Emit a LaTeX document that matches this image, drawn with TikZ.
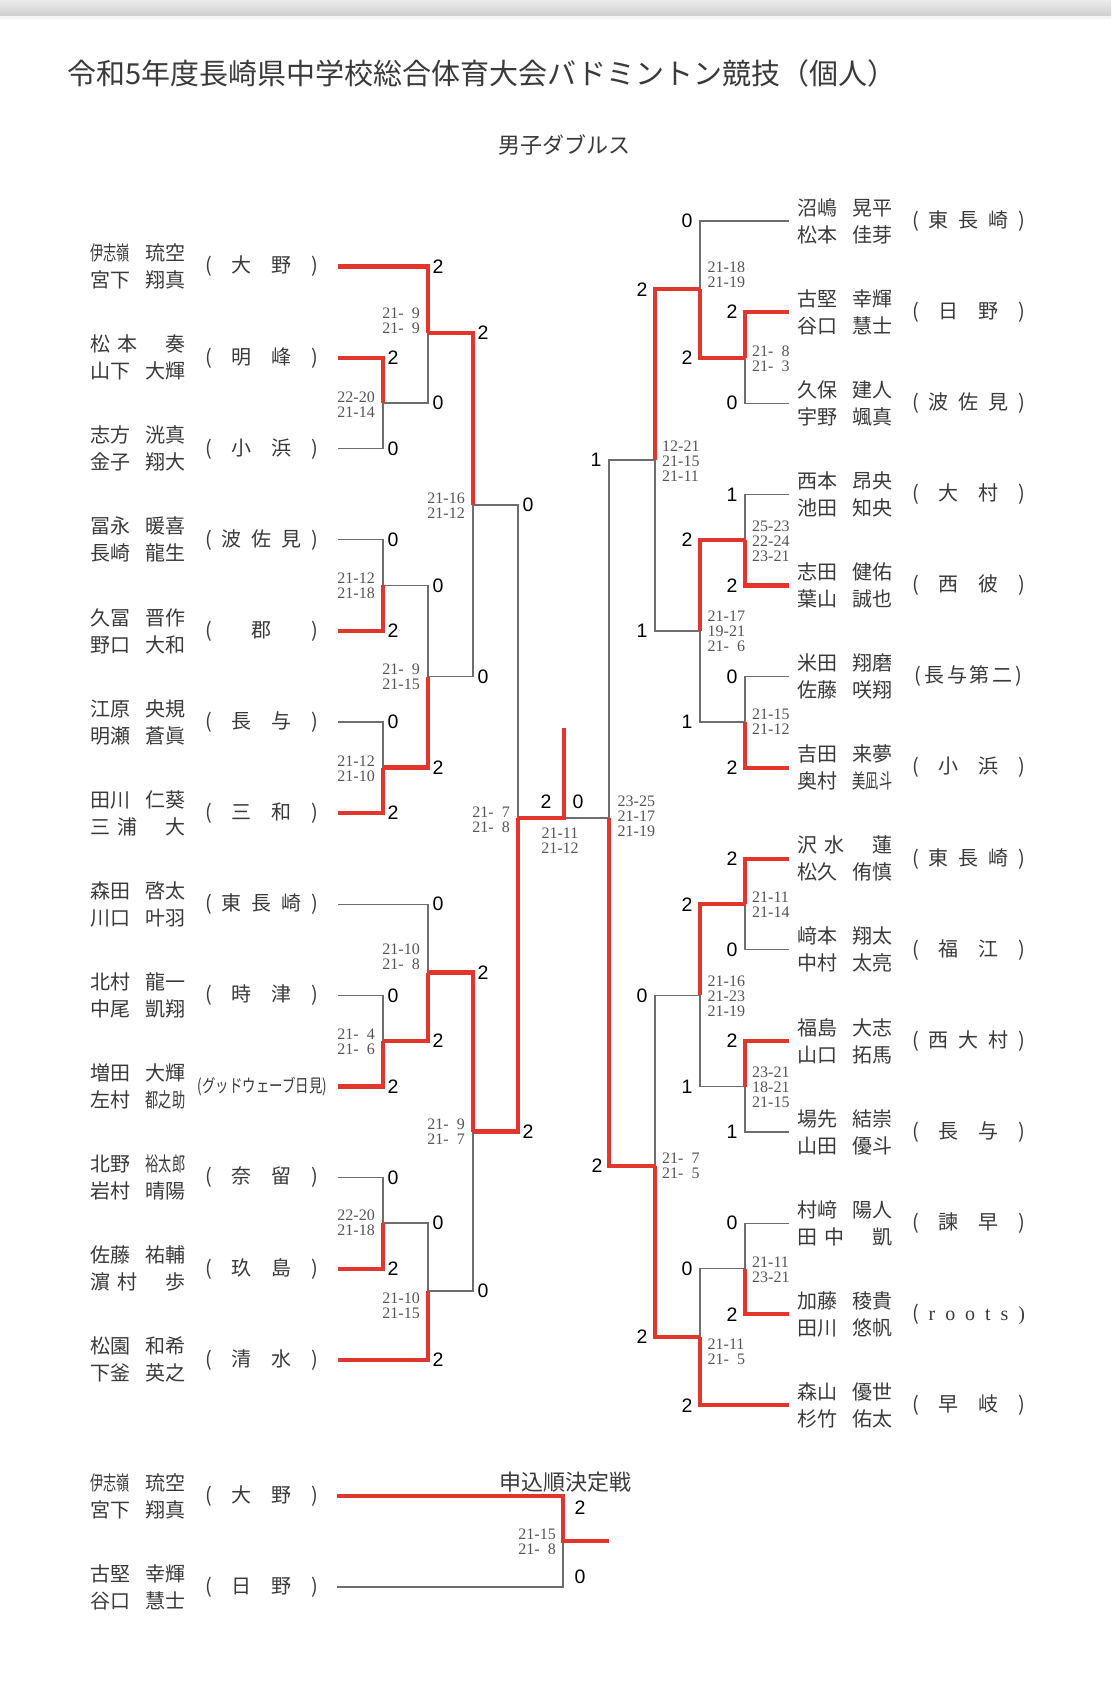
\documentclass[tikz,border=0pt]{standalone}
\usepackage{fontspec}
\usepackage{graphicx}
\newfontfamily\jp{Noto Sans CJK JP}
\newfontfamily\scorefont{Liberation Serif}
\newfontfamily\numfont{Liberation Sans}
\definecolor{redc}{HTML}{E2352B}
\definecolor{greyc}{HTML}{6E6E6E}
\definecolor{txt}{HTML}{3A3A3A}
\definecolor{gsc}{HTML}{555555}
\newcommand\nm[2]{\makebox[95pt][l]{#1\hfill #2}}
\newcommand\cmp[1]{\scalebox{0.66}[1]{#1}}
\newcommand\tmb[1]{\makebox[113pt]{(\hfill #1\hfill)}}
\newcommand\fsp{\hphantom{0}}
\newcommand\bn[4]{\node[bignum] (#1) at (#2,#3) {#4};}
\newcommand\gl[4]{\node[gsl] (#1) at (#2,#3) {#4};}
\newcommand\gr[4]{\node[gsr] (#1) at (#2,#3) {#4};}
\tikzset{
  win/.style={draw=redc, line width=4.2pt},
  lose/.style={draw=greyc, line width=1.2pt},
  nmst/.style={font=\jp\fontsize{20}{27}\selectfont, text=txt, inner sep=0pt, align=left, anchor=west},
  tmst/.style={font=\jp\fontsize{20}{27}\selectfont, text=txt, inner sep=0pt},
  bignum/.style={font=\numfont\fontsize{19.5}{19.5}\selectfont, text=black, inner sep=0pt},
  gsl/.style={font=\scorefont\fontsize{16}{15}\selectfont, text=gsc, inner sep=0pt, align=right, anchor=east},
  gsr/.style={font=\scorefont\fontsize{16}{15}\selectfont, text=gsc, inner sep=0pt, align=left, anchor=west},
  gsc/.style={font=\scorefont\fontsize{16}{15}\selectfont, text=gsc, inner sep=0pt, align=center},
}
\begin{document}
\begin{tikzpicture}[x=1pt,y=-1pt]
\useasboundingbox (0,0) rectangle (1111,1689);
\fill[white] (0,0) rectangle (1111,1689);
\shade[top color=gray!15, bottom color=gray!38] (0,0) rectangle (1111,16);
\fill[gray!8] (0,16) rectangle (1111,19);

% titles
\node[font=\jp\fontsize{29}{29}\selectfont, text=txt, inner sep=0pt, anchor=west] (title) at (67,73) {令和5年度長崎県中学校総合体育大会バドミントン競技（個人）};
\node[font=\jp\fontsize{22}{22}\selectfont, text=txt, inner sep=0pt] (sub) at (564,145) {男子ダブルス};
\node[font=\jp\fontsize{22}{22}\selectfont, text=txt, inner sep=0pt] (sub2) at (565,1482) {申込順決定戦};

% ---------- coordinates ----------
\foreach \i/\y in {0/266.5,1/357.6,2/448.7,3/539.8,4/630.9,5/722.0,6/813.1,7/904.2,8/995.3,9/1086.4,10/1177.5,11/1268.6,12/1359.7}
  \coordinate (L\i) at (338,\y);
\foreach \i/\y in {0/221.0,1/312.1,2/403.2,3/494.3,4/585.4,5/676.5,6/767.6,7/858.7,8/949.8,9/1040.9,10/1132.0,11/1223.1,12/1314.2,13/1405.3}
  \coordinate (R\i) at (789,\y);
\coordinate (mA) at (383,403.0);
\coordinate (mB) at (428,333.0);
\coordinate (mC) at (383,585.4);
\coordinate (mD) at (383,767.5);
\coordinate (mE) at (428,676.5);
\coordinate (mF) at (473,505.0);
\coordinate (mG) at (383,1040.9);
\coordinate (mH) at (428,972.5);
\coordinate (mI) at (383,1223.0);
\coordinate (mJ) at (428,1291.0);
\coordinate (mK) at (473,1131.5);
\coordinate (mL) at (518,818);
\coordinate (F) at (564,818);
\coordinate (top) at (564,728);
\coordinate (nA) at (745,357.7);
\coordinate (nB) at (700,289.3);
\coordinate (nC) at (745,539.9);
\coordinate (nD) at (745,722.0);
\coordinate (nE) at (700,631.0);
\coordinate (nF) at (655,460.0);
\coordinate (nG) at (745,904.3);
\coordinate (nH) at (745,1086.5);
\coordinate (nI) at (700,995.4);
\coordinate (nJ) at (745,1268.6);
\coordinate (nK) at (700,1337.0);
\coordinate (nL) at (655,1166.0);
\coordinate (nM) at (609,818);
\coordinate (B0) at (337,1496);
\coordinate (B1) at (337,1587);
\coordinate (bJ) at (563,1541);
\coordinate (bE) at (609,1541);

% ---------- losing branches ----------
\draw[lose] (L2) -| (mA);
\draw[lose] (mA) -| (mB);
\draw[lose] (L3) -| (mC);
\draw[lose] (L5) -| (mD);
\draw[lose] (mC) -| (mE);
\draw[lose] (mE) -| (mF);
\draw[lose] (L8) -| (mG);
\draw[lose] (L7) -| (mH);
\draw[lose] (L10) -| (mI);
\draw[lose] (mI) -| (mJ);
\draw[lose] (mJ) -| (mK);
\draw[lose] (mF) -| (mL);
\draw[lose] (nM) -- (F);
\draw[lose] (R2) -| (nA);
\draw[lose] (R0) -| (nB);
\draw[lose] (R3) -| (nC);
\draw[lose] (R5) -| (nD);
\draw[lose] (nD) -| (nE);
\draw[lose] (nE) -| (nF);
\draw[lose] (R8) -| (nG);
\draw[lose] (R10) -| (nH);
\draw[lose] (nH) -| (nI);
\draw[lose] (R11) -| (nJ);
\draw[lose] (nJ) -| (nK);
\draw[lose] (nI) -| (nL);
\draw[lose] (nF) -| (nM);
\draw[lose] (B1) -| (bJ);

% ---------- winning branches ----------
\draw[win] (L1) -| (mA);
\draw[win] (L0) -| (mB);
\draw[win] (L4) -| (mC);
\draw[win] (L6) -| (mD);
\draw[win] (mD) -| (mE);
\draw[win] (mB) -| (mF);
\draw[win] (L9) -| (mG);
\draw[win] (mG) -| (mH);
\draw[win] (L11) -| (mI);
\draw[win] (L12) -| (mJ);
\draw[win] (mH) -| (mK);
\draw[win] (mK) -| (mL);
\draw[win] (mL) -- (F) -- (top);
\draw[win] (R1) -| (nA);
\draw[win] (nA) -| (nB);
\draw[win] (R4) -| (nC);
\draw[win] (R6) -| (nD);
\draw[win] (nC) -| (nE);
\draw[win] (nB) -| (nF);
\draw[win] (R7) -| (nG);
\draw[win] (R9) -| (nH);
\draw[win] (nG) -| (nI);
\draw[win] (R12) -| (nJ);
\draw[win] (R13) -| (nK);
\draw[win] (nK) -| (nL);
\draw[win] (nL) -| (nM);
\draw[win] (B0) -| (bJ) -- (bE);

% ---------- left names ----------
\node[nmst] (nL0) at (90,266.5) {\nm{\cmp{伊志嶺}}{琉空}\\\nm{宮下}{翔真}};
\node[nmst] (nL1) at (90,357.6) {\nm{松\hspace{7pt}本}{奏}\\\nm{山下}{大輝}};
\node[nmst] (nL2) at (90,448.7) {\nm{志方}{洸真}\\\nm{金子}{翔大}};
\node[nmst] (nL3) at (90,539.8) {\nm{冨永}{暖喜}\\\nm{長崎}{龍生}};
\node[nmst] (nL4) at (90,630.9) {\nm{久冨}{晋作}\\\nm{野口}{大和}};
\node[nmst] (nL5) at (90,722.0) {\nm{江原}{央規}\\\nm{明瀬}{蒼眞}};
\node[nmst] (nL6) at (90,813.1) {\nm{田川}{仁葵}\\\nm{三\hspace{7pt}浦}{大}};
\node[nmst] (nL7) at (90,904.2) {\nm{森田}{啓太}\\\nm{川口}{叶羽}};
\node[nmst] (nL8) at (90,995.3) {\nm{北村}{龍一}\\\nm{中尾}{凱翔}};
\node[nmst] (nL9) at (90,1086.4) {\nm{増田}{大輝}\\\nm{左村}{\cmp{都之助}}};
\node[nmst] (nL10) at (90,1177.5) {\nm{北野}{\cmp{裕太郎}}\\\nm{岩村}{晴陽}};
\node[nmst] (nL11) at (90,1268.6) {\nm{佐藤}{祐輔}\\\nm{濵\hspace{7pt}村}{歩}};
\node[nmst] (nL12) at (90,1359.7) {\nm{松園}{和希}\\\nm{下釜}{英之}};
% left teams
\node[tmst] (tL0) at (261.5,266.5) {\tmb{大\hfill 野}};
\node[tmst] (tL1) at (261.5,357.6) {\tmb{明\hfill 峰}};
\node[tmst] (tL2) at (261.5,448.7) {\tmb{小\hfill 浜}};
\node[tmst] (tL3) at (261.5,539.8) {\tmb{波\hfill 佐\hfill 見}};
\node[tmst] (tL4) at (261.5,630.9) {\tmb{郡}};
\node[tmst] (tL5) at (261.5,722.0) {\tmb{長\hfill 与}};
\node[tmst] (tL6) at (261.5,813.1) {\tmb{三\hfill 和}};
\node[tmst] (tL7) at (261.5,904.2) {\tmb{東\hfill 長\hfill 崎}};
\node[tmst] (tL8) at (261.5,995.3) {\tmb{時\hfill 津}};
\node[tmst] (tL9) at (262.5,1087) {\resizebox{129pt}{\height}{\fontsize{18}{18}\selectfont(グッドウェーブ日見)}};
\node[tmst] (tL10) at (261.5,1177.5) {\tmb{奈\hfill 留}};
\node[tmst] (tL11) at (261.5,1268.6) {\tmb{玖\hfill 島}};
\node[tmst] (tL12) at (261.5,1359.7) {\tmb{清\hfill 水}};

% ---------- right names ----------
\node[nmst] (nR0) at (797,221.0) {\nm{沼嶋}{晃平}\\\nm{松本}{佳芽}};
\node[nmst] (nR1) at (797,312.1) {\nm{古堅}{幸輝}\\\nm{谷口}{慧士}};
\node[nmst] (nR2) at (797,403.2) {\nm{久保}{建人}\\\nm{宇野}{颯真}};
\node[nmst] (nR3) at (797,494.3) {\nm{西本}{昂央}\\\nm{池田}{知央}};
\node[nmst] (nR4) at (797,585.4) {\nm{志田}{健佑}\\\nm{葉山}{誠也}};
\node[nmst] (nR5) at (797,676.5) {\nm{米田}{翔磨}\\\nm{佐藤}{咲翔}};
\node[nmst] (nR6) at (797,767.6) {\nm{吉田}{来夢}\\\nm{奥村}{\cmp{美凪斗}}};
\node[nmst] (nR7) at (797,858.7) {\nm{沢\hspace{7pt}水}{蓮}\\\nm{松久}{侑慎}};
\node[nmst] (nR8) at (797,949.8) {\nm{﨑本}{翔太}\\\nm{中村}{太亮}};
\node[nmst] (nR9) at (797,1040.9) {\nm{福島}{大志}\\\nm{山口}{拓馬}};
\node[nmst] (nR10) at (797,1132.0) {\nm{場先}{結崇}\\\nm{山田}{優斗}};
\node[nmst] (nR11) at (797,1223.1) {\nm{村﨑}{陽人}\\\nm{田\hspace{7pt}中}{凱}};
\node[nmst] (nR12) at (797,1314.2) {\nm{加藤}{稜貴}\\\nm{田川}{悠帆}};
\node[nmst] (nR13) at (797,1405.3) {\nm{森山}{優世}\\\nm{杉竹}{佑太}};
% right teams
\node[tmst] (tR0) at (968.5,221.0) {\tmb{東\hfill 長\hfill 崎}};
\node[tmst] (tR1) at (968.5,312.1) {\tmb{日\hfill 野}};
\node[tmst] (tR2) at (968.5,403.2) {\tmb{波\hfill 佐\hfill 見}};
\node[tmst] (tR3) at (968.5,494.3) {\tmb{大\hfill 村}};
\node[tmst] (tR4) at (968.5,585.4) {\tmb{西\hfill 彼}};
\node[tmst] (tR5) at (968.5,676.5) {\makebox[113pt]{(\hfil 長\hfil 与\hfil 第\hfil 二\hfil)}};
\node[tmst] (tR6) at (968.5,767.6) {\tmb{小\hfill 浜}};
\node[tmst] (tR7) at (968.5,858.7) {\tmb{東\hfill 長\hfill 崎}};
\node[tmst] (tR8) at (968.5,949.8) {\tmb{福\hfill 江}};
\node[tmst] (tR9) at (968.5,1040.9) {\tmb{西\hfill 大\hfill 村}};
\node[tmst] (tR10) at (968.5,1132.0) {\tmb{長\hfill 与}};
\node[tmst] (tR11) at (968.5,1223.1) {\tmb{諫\hfill 早}};
\node[tmst] (tR12) at (968.5,1314.2) {\tmb{\scorefont r\hfill o\hfill o\hfill t\hfill s}};
\node[tmst] (tR13) at (968.5,1405.3) {\tmb{早\hfill 岐}};

% ---------- bottom playoff ----------
\node[nmst] (nB0) at (90,1496) {\nm{\cmp{伊志嶺}}{琉空}\\\nm{宮下}{翔真}};
\node[nmst] (nB1) at (90,1587) {\nm{古堅}{幸輝}\\\nm{谷口}{慧士}};
\node[tmst] (tB0) at (261.5,1496) {\tmb{大\hfill 野}};
\node[tmst] (tB1) at (261.5,1587) {\tmb{日\hfill 野}};
\bn{sB0}{580}{1508}{2}
\bn{sB1}{580}{1577}{0}
\gl{gB}{556}{1542}{21-15\\21-\fsp8}

% ---------- big scores left ----------
\bn{sL0}{438}{266.5}{2}
\bn{smB}{483}{333}{2}
\bn{sL1}{393}{357.6}{2}
\bn{smA}{438}{403}{0}
\bn{sL2}{393}{448.7}{0}
\bn{smF}{528}{505}{0}
\bn{sL3}{393}{539.8}{0}
\bn{smC}{438}{585.4}{0}
\bn{sL4}{393}{630.9}{2}
\bn{smE}{483}{676.5}{0}
\bn{sL5}{393}{722}{0}
\bn{smD}{438}{767.5}{2}
\bn{sL6}{393}{813.1}{2}
\bn{sL7}{438}{904.2}{0}
\bn{smH}{483}{972.5}{2}
\bn{sL8}{393}{995.3}{0}
\bn{smG}{438}{1041}{2}
\bn{sL9}{393}{1086.4}{2}
\bn{smK}{528}{1131.5}{2}
\bn{sL10}{393}{1177.5}{0}
\bn{smI}{438}{1223}{0}
\bn{sL11}{393}{1268.6}{2}
\bn{smJ}{483}{1291}{0}
\bn{sL12}{438}{1359.7}{2}
\bn{sFl}{546}{802}{2}
\bn{sFr}{578}{802}{0}
% ---------- big scores right ----------
\bn{sR0}{687}{221}{0}
\bn{snB}{642}{289.3}{2}
\bn{sR1}{732}{312.1}{2}
\bn{snA}{687}{357.7}{2}
\bn{sR2}{732}{403.2}{0}
\bn{snF}{596}{460}{1}
\bn{sR3}{732}{494.3}{1}
\bn{snC}{687}{540}{2}
\bn{sR4}{732}{585.4}{2}
\bn{snE}{642}{631}{1}
\bn{sR5}{732}{676.5}{0}
\bn{snD}{687}{722}{1}
\bn{sR6}{732}{767.6}{2}
\bn{sR7}{732}{858.7}{2}
\bn{snG}{687}{904.3}{2}
\bn{sR8}{732}{949.8}{0}
\bn{snI}{642}{995.4}{0}
\bn{sR9}{732}{1040.9}{2}
\bn{snH}{687}{1086.5}{1}
\bn{sR10}{732}{1132}{1}
\bn{snL}{597}{1166}{2}
\bn{sR11}{732}{1223.1}{0}
\bn{snJ}{687}{1268.6}{0}
\bn{sR12}{732}{1314.2}{2}
\bn{snK}{642}{1337}{2}
\bn{sR13}{687}{1405.3}{2}

% ---------- game scores left ----------
\gl{gmA}{375}{404.5}{22-20\\21-14}
\gl{gmB}{420}{320.5}{21-\fsp9\\21-\fsp9}
\gl{gmC}{375}{586}{21-12\\21-18}
\gl{gmD}{375}{768.5}{21-12\\21-10}
\gl{gmE}{420}{676.5}{21-\fsp9\\21-15}
\gl{gmF}{465}{505.5}{21-16\\21-12}
\gl{gmG}{375}{1041.5}{21-\fsp4\\21-\fsp6}
\gl{gmH}{420}{956.5}{21-10\\21-\fsp8}
\gl{gmI}{375}{1223}{22-20\\21-18}
\gl{gmJ}{420}{1305.5}{21-10\\21-15}
\gl{gmK}{465}{1132}{21-\fsp9\\21-\fsp7}
\gl{gmL}{510}{819.5}{21-\fsp7\\21-\fsp8}
\node[gsc] (gFin) at (560,840.5) {21-11\\21-12};
% ---------- game scores right ----------
\gr{gnA}{752}{358.5}{21-\fsp8\\21-\fsp3}
\gr{gnB}{707.5}{274.5}{21-18\\21-19}
\gr{gnC}{752}{541}{25-23\\22-24\\23-21}
\gr{gnD}{752}{721.5}{21-15\\21-12}
\gr{gnE}{707.5}{631.5}{21-17\\19-21\\21-\fsp6}
\gr{gnF}{662}{461}{12-21\\21-15\\21-11}
\gr{gnG}{752}{904.5}{21-11\\21-14}
\gr{gnH}{752}{1087}{23-21\\18-21\\21-15}
\gr{gnI}{707.5}{996}{21-16\\21-23\\21-19}
\gr{gnJ}{752}{1269.5}{21-11\\23-21}
\gr{gnK}{707.5}{1351.5}{21-11\\21-\fsp5}
\gr{gnL}{662}{1165.5}{21-\fsp7\\21-\fsp5}
\gr{gnM}{617.5}{816}{23-25\\21-17\\21-19}
\end{tikzpicture}
\end{document}
